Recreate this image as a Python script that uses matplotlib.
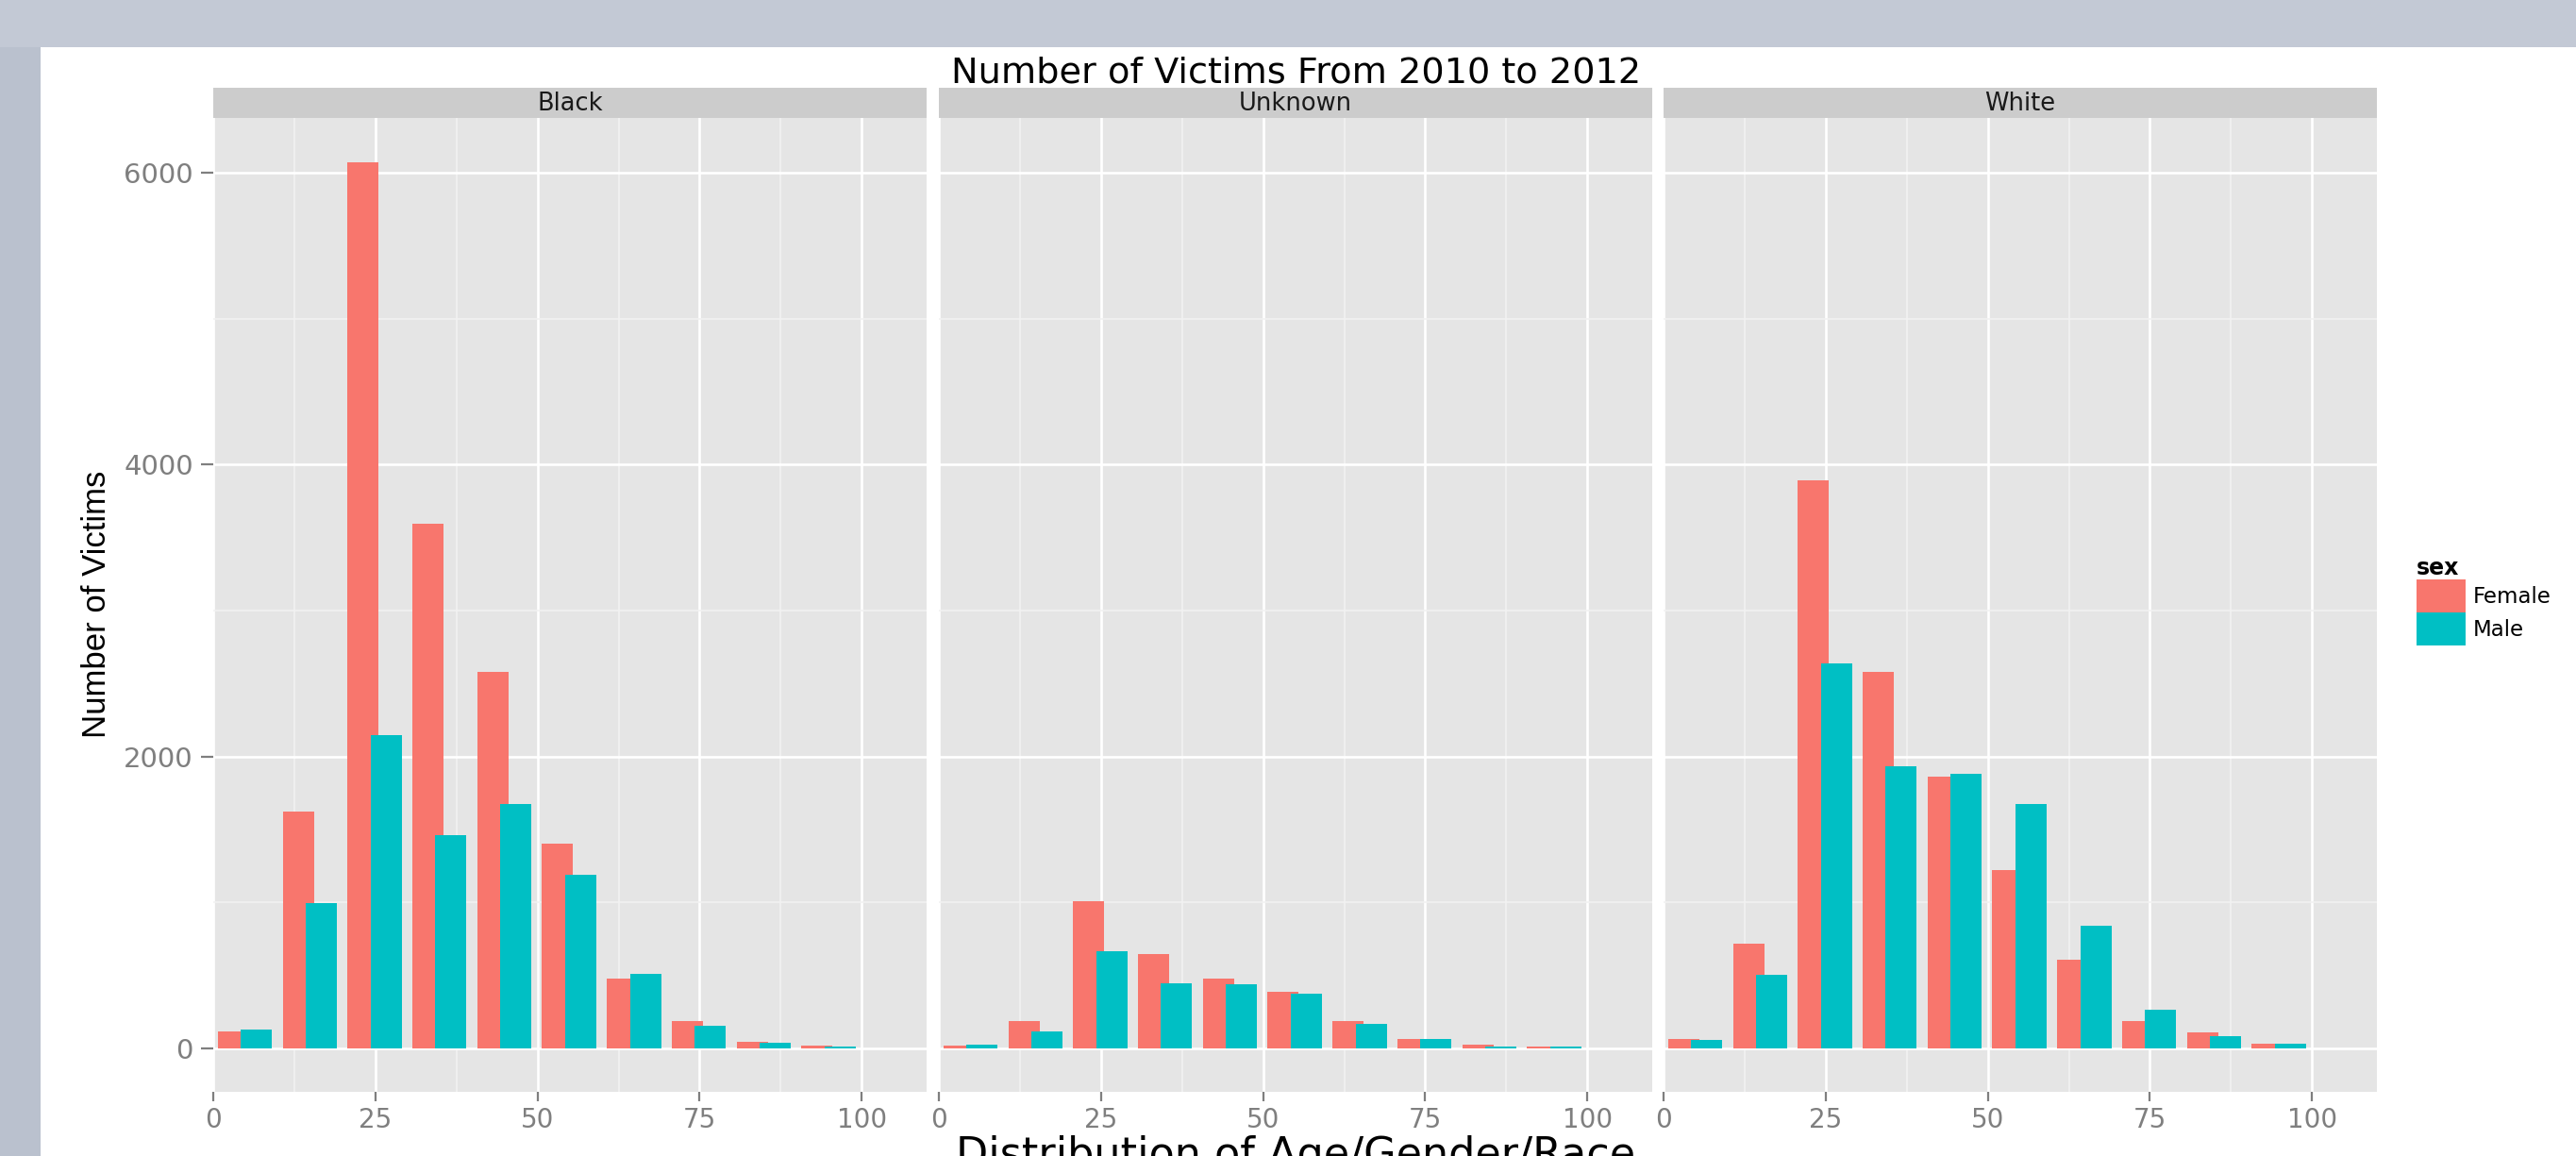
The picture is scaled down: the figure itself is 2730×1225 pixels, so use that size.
import matplotlib
matplotlib.use("Agg")
import matplotlib.pyplot as plt
from matplotlib import font_manager
from matplotlib.patches import Rectangle
from matplotlib.ticker import FixedLocator
import numpy as np

# ---------------- data ----------------
age_bin_centers = [5, 15, 25, 35, 45, 55, 65, 75, 85, 95]
races = ["Black", "Unknown", "White"]
sexes = ["Female", "Male"]

black_female = [116, 1622, 6070, 3592, 2579, 1406, 478, 187, 47, 17]
black_male = [127, 998, 2146, 1462, 1673, 1192, 509, 155, 37, 15]
unknown_female = [22, 185, 1011, 649, 476, 388, 185, 67, 24, 14]
unknown_male = [24, 116, 669, 446, 438, 377, 166, 67, 15, 11]
white_female = [67, 720, 3892, 2579, 1865, 1220, 608, 185, 108, 35]
white_male = [56, 507, 2637, 1934, 1884, 1673, 838, 267, 86, 32]

x_ticks = [0, 25, 50, 75, 100]
y_ticks = [0, 2000, 4000, 6000]

title = "Number of Victims From 2010 to 2012"
x_label = "Distribution of Age/Gender/Race"
y_label = "Number of Victims"

# ---------------- style ----------------
W, H = 2730, 1225
DPI = 100
female_col = "#F8766D"
male_col = "#00BFC4"
panel_bg = "#E5E5E5"
strip_bg = "#CCCCCC"
tick_col = "#7F7F7F"

names = {f.name for f in font_manager.fontManager.ttflist}
if "Liberation Sans Narrow" in names:
    ylab_family, ylab_size = ["Liberation Sans Narrow", "DejaVu Sans"], 31
else:
    ylab_family, ylab_size = ["Liberation Sans", "DejaVu Sans"], 25
plt.rcParams["font.family"] = ["DejaVu Sans"]

fig = plt.figure(figsize=(W / DPI, H / DPI), dpi=DPI, facecolor="#C3C9D5")
# left darker band and white page
fig.patches.append(Rectangle((0, 0), 43 / W, 1 - 50 / H, transform=fig.transFigure,
                             facecolor="#BAC1CE", edgecolor="none", zorder=-10))
fig.patches.append(Rectangle((43 / W, 0), 1 - 43 / W, 1 - 50 / H, transform=fig.transFigure,
                             facecolor="white", edgecolor="none", zorder=-9))

panel_lefts = [226, 995, 1763]
panel_w = 756
panel_top, panel_bot = 125, 1157
strip_top = 93

data = {"Black": (black_female, black_male),
        "Unknown": (unknown_female, unknown_male),
        "White": (white_female, white_male)}

centers = np.array(age_bin_centers, dtype=float)
bar_w = 4.8
fem_left = -4.3
male_left = -0.75

handles = None
for i, race in enumerate(races):
    left = panel_lefts[i]
    ax = fig.add_axes([left / W, 1 - panel_bot / H, panel_w / W, (panel_bot - panel_top) / H])
    ax.set_facecolor(panel_bg)
    for s in ax.spines.values():
        s.set_visible(False)
    fvals, mvals = data[race]
    bf = ax.bar(centers + fem_left, fvals, width=bar_w, align="edge", color=female_col,
                linewidth=0, zorder=2, label="Female")
    bm = ax.bar(centers + male_left, mvals, width=bar_w, align="edge", color=male_col,
                linewidth=0, zorder=3, label="Male")
    if handles is None:
        handles = [bf, bm]
    ax.set_xlim(0, 110)
    ax.set_ylim(-297, 6375)
    ax.xaxis.set_major_locator(FixedLocator(x_ticks))
    ax.xaxis.set_minor_locator(FixedLocator([12.5, 37.5, 62.5, 87.5]))
    ax.yaxis.set_major_locator(FixedLocator(y_ticks))
    ax.yaxis.set_minor_locator(FixedLocator([1000, 3000, 5000]))
    ax.grid(which="major", color="white", linewidth=1.9, zorder=1)
    ax.grid(which="minor", color="#F2F2F2", linewidth=1.2, zorder=1)
    ax.set_axisbelow(True)
    ax.set_xticklabels([str(t) for t in x_ticks])
    ax.tick_params(axis="x", which="major", length=7.5, width=1.6, color=tick_col,
                   pad=4.0, labelsize=20, labelcolor=tick_col)
    ax.tick_params(which="minor", length=0)
    if i == 0:
        ax.set_yticklabels([str(t) for t in y_ticks])
        ax.tick_params(axis="y", which="major", length=9.5, width=1.6, color=tick_col,
                       pad=5.8, labelsize=21, labelcolor=tick_col)
    else:
        ax.tick_params(axis="y", which="major", length=0, labelleft=False)

    # facet strip
    sax = fig.add_axes([left / W, 1 - panel_top / H, panel_w / W, (panel_top - strip_top) / H])
    sax.set_facecolor(strip_bg)
    sax.set_xticks([])
    sax.set_yticks([])
    for s in sax.spines.values():
        s.set_visible(False)
    sax.text(0.5, 0.47, race, ha="center", va="center", fontsize=18.5, color="#1A1A1A",
             transform=sax.transAxes)

# titles
fig.text(1374 / W, 1 - 87 / H, title, ha="center", va="baseline", fontsize=27.5, color="black")
fig.text(1373 / W, 1 - 1203 / H, x_label, ha="center", va="top", fontsize=32, color="black")
fig.text(103 / W, 1 - 640 / H, y_label, rotation=90, ha="center", va="center",
         fontsize=ylab_size, color="black", family=ylab_family)

# legend
leg = fig.legend(handles=handles, labels=sexes, title="sex", loc="upper left",
                 bbox_to_anchor=(2561 / W, 1 - 590 / H), frameon=False,
                 borderpad=0, borderaxespad=0, handlelength=2.25, handleheight=1.97,
                 labelspacing=0, handletextpad=0.35, fontsize=16.5,
                 title_fontproperties={"size": 17, "weight": "bold"}, alignment="left")
leg._legend_box.sep = 0

fig.savefig("out.png", dpi=DPI, facecolor=fig.get_facecolor())
